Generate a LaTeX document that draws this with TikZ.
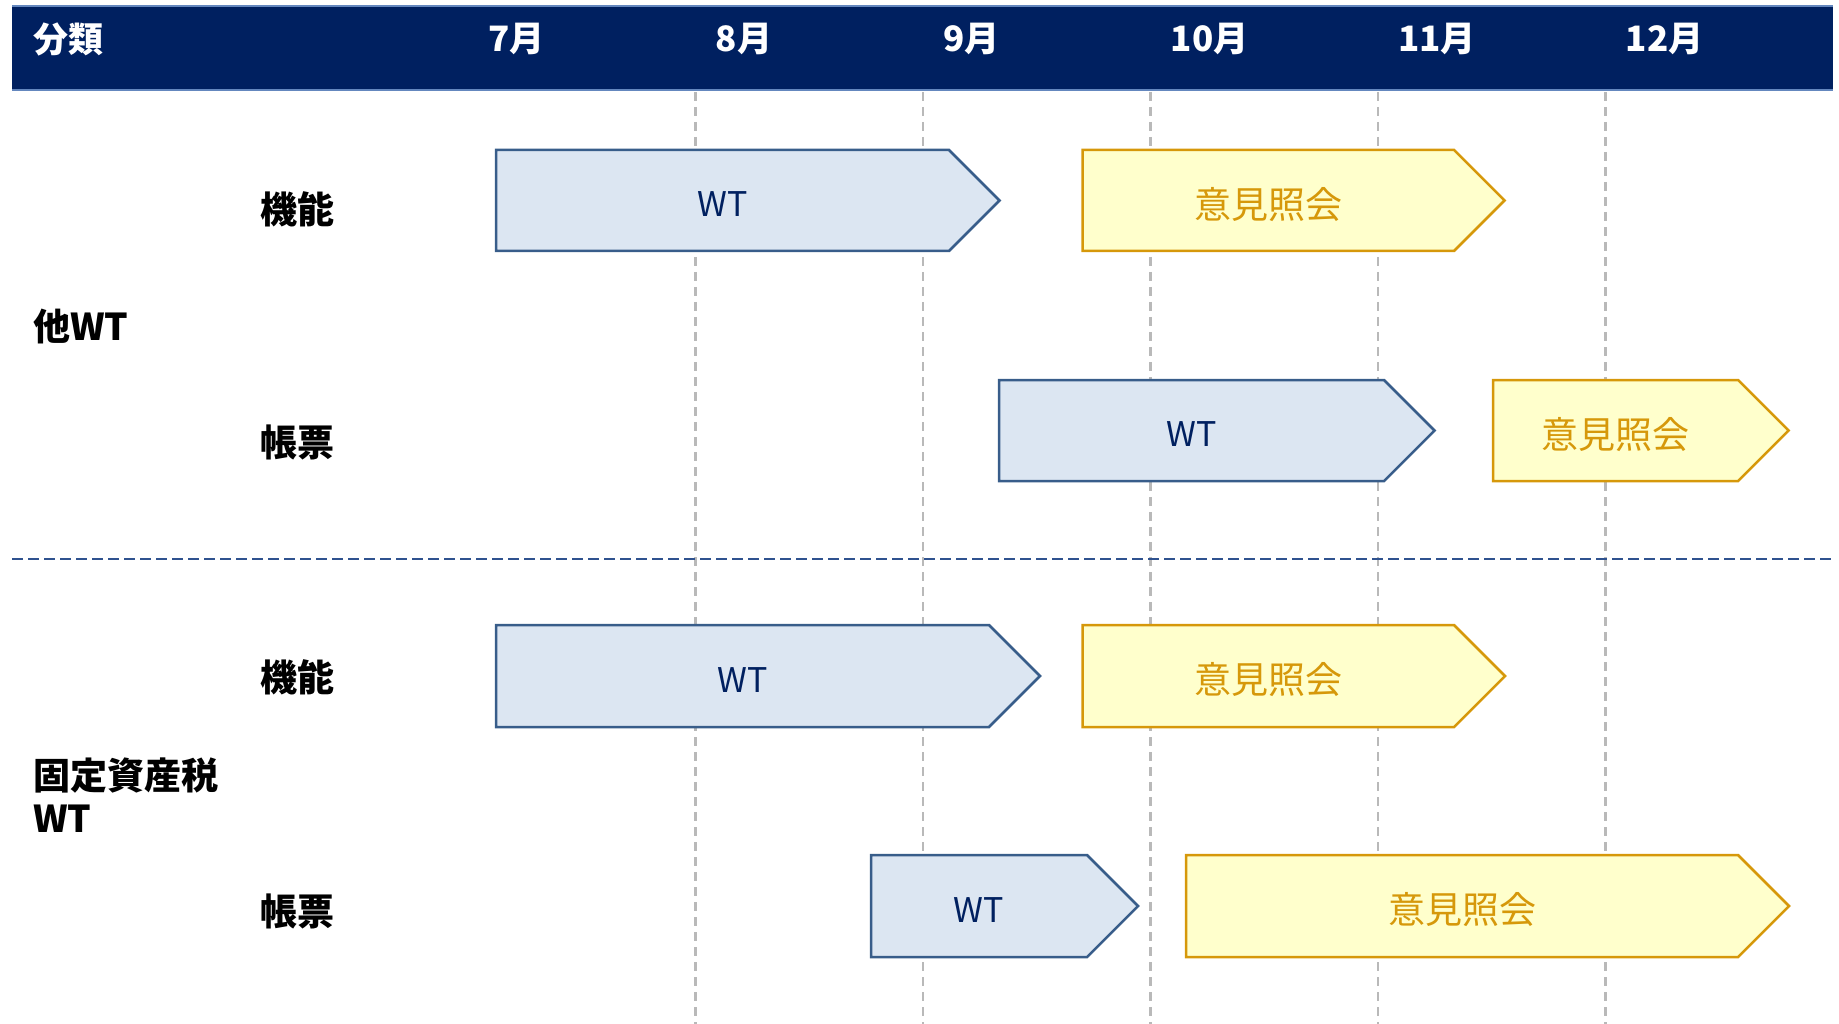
\documentclass[tikz,border=0pt]{standalone}
\usepackage{fontspec}
\setmainfont{Noto Sans CJK JP}
\definecolor{hdr}{RGB}{0,32,96}
\definecolor{hdrline}{RGB}{100,135,190}
\definecolor{gridc}{RGB}{185,185,185}
\definecolor{sepc}{RGB}{47,82,143}
\definecolor{wtfill}{RGB}{220,230,242}
\definecolor{wtdraw}{RGB}{56,93,138}
\definecolor{wttextc}{RGB}{0,32,96}
\definecolor{ikfill}{RGB}{255,255,204}
\definecolor{ikdraw}{RGB}{214,152,10}
\newcommand\ganttbar[7]{%
  \pgfmathsetmacro\gym{(#4+#5)/2}%
  \pgfmathsetmacro\gxt{#3+(#5-#4)/2}%
  \pgfmathsetmacro\gxc{(#2+#3)/2}%
  \pgfmathsetmacro\gyt{\gym+4}%
  \draw[#6bar] (#2,#4) -- (#3,#4) -- (\gxt,\gym) -- (#3,#5) -- (#2,#5) -- cycle;
  \node[#6text] (#1) at (\gxc,\gyt) {#7};
}
\begin{document}
\begin{tikzpicture}[x=1pt,y=-1pt,
  hdrtext/.style={text=white,font=\bfseries\fontsize{35}{40}\selectfont,inner sep=0pt,anchor=west},
  rowlabel/.style={font=\bfseries\fontsize{37}{43}\selectfont,inner sep=0pt,anchor=west,align=left},
  wtbar/.style={fill=wtfill,draw=wtdraw,line width=2.5pt,line join=miter},
  ikbar/.style={fill=ikfill,draw=ikdraw,line width=2.5pt,line join=miter},
  wttext/.style={text=wttextc,font=\fontsize{34}{40}\selectfont,inner sep=0pt},
  iktext/.style={text=ikdraw,font=\fontsize{37}{40}\selectfont,inner sep=0pt},
  gridline/.style={draw=gridc,line width=2.5pt,dash pattern=on 9pt off 6pt},
  sepline/.style={draw=sepc,line width=2.5pt,dash pattern=on 11pt off 5pt}]
\useasboundingbox (0,0) rectangle (1839,1024);
% header band
\fill[hdr] (12,6) rectangle (1833,90);
\draw[hdrline,line width=2pt] (12,6) -- (1833,6);
\draw[hdrline,line width=2pt] (12,90) -- (1833,90);
\node[hdrtext] (hcat) at (33,39) {分類};
\node[hdrtext] (m7) at (488,39) {7月};
\node[hdrtext] (m8) at (715.5,39) {8月};
\node[hdrtext] (m9) at (943,39) {9月};
\node[hdrtext] (m10) at (1170.5,39) {10月};
\node[hdrtext] (m11) at (1398,39) {11月};
\node[hdrtext] (m12) at (1625.5,39) {12月};
% grid lines
\foreach \x in {695.5,923,1150.5,1378,1605.5}
  \draw[gridline] (\x,92) -- (\x,1024);
% separator
\draw[sepline] (12,559) -- (1833,559);
% row labels
\node[rowlabel] (g1) at (33,326) {他WT};
\node[rowlabel] (g2) at (33,795) {固定資産税\\WT};
\node[rowlabel] (r1) at (260,209) {機能};
\node[rowlabel] (r2) at (260,442) {帳票};
\node[rowlabel] (r3) at (260,677) {機能};
\node[rowlabel] (r4) at (260,911) {帳票};
% bars
\ganttbar{b1}{496}{949}{150}{251}{wt}{WT}
\ganttbar{b2}{1082.5}{1454}{150}{251}{ik}{意見照会}
\ganttbar{b3}{999}{1384}{380}{481}{wt}{WT}
\ganttbar{b4}{1493}{1738}{380}{481}{ik}{意見照会}
\ganttbar{b5}{496}{989}{625}{727}{wt}{WT}
\ganttbar{b6}{1082.5}{1454}{625}{727}{ik}{意見照会}
\ganttbar{b7}{871}{1087}{855}{957}{wt}{WT}
\ganttbar{b8}{1186}{1738}{855}{957}{ik}{意見照会}
\end{tikzpicture}
\end{document}
